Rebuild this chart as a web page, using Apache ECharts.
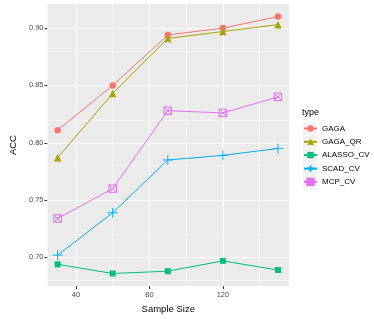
<!DOCTYPE html>
<html><head><meta charset="utf-8">
<script src="https://cdn.jsdelivr.net/npm/echarts@6/dist/echarts.min.js"></script>
<style>html,body{margin:0;padding:0;background:#fff}#c{width:374px;height:319px}</style>
</head><body><div id="c"></div>
<script>
const sampleSize = [30, 60, 90, 120, 150];
const seriesNames = ['GAGA', 'GAGA_QR', 'ALASSO_CV', 'SCAD_CV', 'MCP_CV'];
const GAGA = [0.811, 0.850, 0.894, 0.900, 0.910];
const GAGA_QR = [0.787, 0.843, 0.891, 0.897, 0.903];
const ALASSO_CV = [0.694, 0.686, 0.688, 0.697, 0.689];
const SCAD_CV = [0.702, 0.739, 0.785, 0.789, 0.795];
const MCP_CV = [0.734, 0.760, 0.828, 0.826, 0.840];
const xTicks = [40, 80, 120];
const xMinor = [60, 100, 140];
const yTicks = [0.70, 0.75, 0.80, 0.85, 0.90];
const yMinor = [0.675, 0.725, 0.775, 0.825, 0.875];

const colors = ['#F8766D', '#A3A500', '#00BF7D', '#00B0F6', '#E76BF3'];
const values = [GAGA, GAGA_QR, ALASSO_CV, SCAD_CV, MCP_CV];
const plusPath = 'path://M5,0L5,10M0,5L10,5';
const boxXPath = 'path://M0,0L10,0L10,10L0,10ZM0,0L10,10M10,0L0,10';
const symbols = ['circle', 'triangle', 'rect', plusPath, boxXPath];
const sizes = [6.5, 7.5, 6, 10, 7.5];

const chart = echarts.init(document.getElementById('c'), null, {renderer: 'canvas'});
const font = 'Liberation Sans, Arial, sans-serif';

const gridLines = [];
xTicks.forEach(v => gridLines.push({xAxis: v, lineStyle: {width: 1.1}}));
xMinor.forEach(v => gridLines.push({xAxis: v, lineStyle: {width: 0.5}}));
yTicks.forEach(v => gridLines.push({yAxis: v, lineStyle: {width: 1.1}}));
yMinor.forEach(v => gridLines.push({yAxis: v, lineStyle: {width: 0.5}}));

const series = [{
  type: 'line', data: [], z: 1, silent: true,
  markLine: {silent: true, z: 1, symbol: 'none', animation: false, label: {show: false},
    lineStyle: {color: '#FFFFFF', type: 'solid'}, data: gridLines}
}];
seriesNames.forEach((n, i) => {
  const open = i >= 3;
  series.push({
    name: n, type: 'line', z: 3,
    data: sampleSize.map((x, j) => [x, values[i][j]]),
    symbol: symbols[i], symbolSize: sizes[i], symbolKeepAspect: true,
    showSymbol: true,
    lineStyle: {color: colors[i], width: 1},
    itemStyle: open ? {color: 'rgba(0,0,0,0)', borderColor: colors[i], borderWidth: 1} : {color: colors[i], borderWidth: 0},
    animation: false
  });
});

const legendLeft = 303;
const keyCenters = [129, 142.3, 155.6, 168.9, 182.2];
const legendGraphics = [{type: 'text', left: 302, top: 108, style: {text: 'type', fontSize: 9, fontFamily: font, fill: '#000'}}];
const legends = [];
seriesNames.forEach((n, i) => {
  legendGraphics.push({type: 'rect', shape: {x: legendLeft, y: keyCenters[i] - 6.5, width: 13, height: 13}, style: {fill: '#F2F2F2'}, z: -1});
  legends.push({
    left: legendLeft, top: keyCenters[i] - 4.5, itemWidth: 13, itemHeight: 8, padding: 0,
    data: [n], selectedMode: false,
    textStyle: {fontSize: 8, color: '#000', fontFamily: font}
  });
});

chart.setOption({
  animation: false,
  color: colors,
  grid: {left: 34, right: 85, top: 4, bottom: 25, show: true, backgroundColor: '#EBEBEB', borderWidth: 0},
  xAxis: {
    type: 'value', min: 24.5, max: 156,
    name: 'Sample Size', nameLocation: 'middle', nameGap: 15,
    nameTextStyle: {fontSize: 9.5, color: '#000', fontFamily: font},
    axisLine: {show: false},
    axisTick: {show: true, length: 3, lineStyle: {color: '#333', width: 1}, customValues: xTicks},
    axisLabel: {fontSize: 7.5, color: '#4D4D4D', fontFamily: font, margin: 5, customValues: xTicks},
    splitLine: {show: false}
  },
  yAxis: {
    type: 'value', min: 0.675, max: 0.921,
    name: 'ACC', nameLocation: 'middle', nameGap: 24, nameRotate: 90,
    nameTextStyle: {fontSize: 9.5, color: '#000', fontFamily: font},
    axisLine: {show: false},
    axisTick: {show: true, length: 3, lineStyle: {color: '#333', width: 1}, customValues: yTicks},
    axisLabel: {fontSize: 7.5, color: '#4D4D4D', fontFamily: font, margin: 4, customValues: yTicks,
      formatter: v => v.toFixed(2)},
    splitLine: {show: false}
  },
  legend: legends,
  graphic: legendGraphics,
  series: series
});
</script></body></html>
